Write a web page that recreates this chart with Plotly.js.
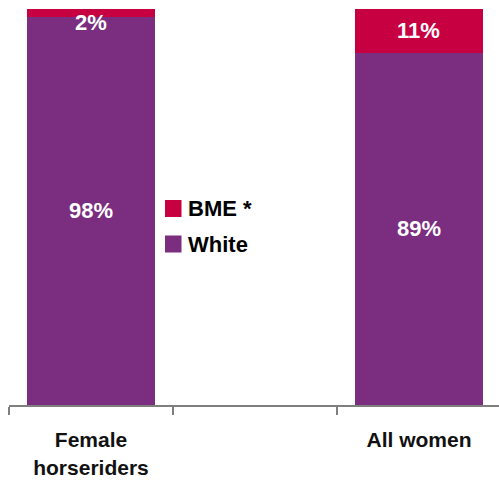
<!DOCTYPE html>
<html>
<head>
<meta charset="utf-8">
<script src="https://cdn.plot.ly/plotly-3.0.1.min.js"></script>
<style>
  html, body { margin: 0; padding: 0; background: #fff; }
  #chart { width: 499px; height: 483px; }
</style>
</head>
<body>
<div id="chart"></div>
<script>
// ---- data ----
const categories = ['Female<br>horseriders', 'All women'];
const axisCategories = ['Female<br>horseriders', ' ', 'All women'];
const seriesNames = ['White', 'BME *'];
const whiteValues = [98, 89];
const bmeValues = [2, 11];
const colors = { white: '#7B2D7F', bme: '#C70042' };

// ---- layout helpers ----
const W = 499, H = 483;
const M = { l: 9, r: 0, t: 9, b: 78 };
const plotW = W - M.l - M.r, plotH = H - M.t - M.b;
const px = x => (x - M.l) / plotW;
const py = y => (H - M.b - y) / plotH;
const FONT = 'Liberation Sans, Arial, Helvetica, sans-serif';

const traces = [
  {
    type: 'bar', name: seriesNames[0], x: categories, y: whiteValues,
    marker: { color: colors.white }, width: 0.775,
    hoverinfo: 'none', textposition: 'none', showlegend: false
  },
  {
    type: 'bar', name: seriesNames[1], x: categories, y: bmeValues,
    marker: { color: colors.bme }, width: 0.775,
    hoverinfo: 'none', textposition: 'none', showlegend: false
  }
];

const labelFont = { family: FONT, size: 22, color: '#ffffff', weight: 700 };
const annotations = [];
categories.forEach((c, i) => {
  annotations.push({
    x: c, y: whiteValues[i] / 2, xref: 'x', yref: 'y',
    text: whiteValues[i] + '%', showarrow: false,
    font: labelFont, yanchor: 'middle'
  });
  const total = whiteValues[i] + bmeValues[i];
  if (bmeValues[i] >= 5) {
    annotations.push({
      x: c, y: whiteValues[i] + bmeValues[i] / 2, xref: 'x', yref: 'y',
      text: bmeValues[i] + '%', showarrow: false,
      font: labelFont, yanchor: 'middle'
    });
  } else {
    annotations.push({
      x: c, y: total, xref: 'x', yref: 'y',
      text: bmeValues[i] + '%', showarrow: false,
      font: labelFont, yanchor: 'top', yshift: 1
    });
  }
});

// custom legend
const legendItems = [
  { name: seriesNames[1], color: colors.bme, cy: 208.5 },
  { name: seriesNames[0], color: colors.white, cy: 244 }
];
const shapes = [];
legendItems.forEach(it => {
  shapes.push({
    type: 'rect', xref: 'paper', yref: 'paper',
    x0: px(165), x1: px(181.5), y0: py(it.cy - 8.5), y1: py(it.cy + 8.5),
    fillcolor: it.color, line: { width: 0 }
  });
  annotations.push({
    xref: 'paper', yref: 'paper', x: px(186), y: py(it.cy),
    xanchor: 'left', yanchor: 'middle', text: it.name, showarrow: false,
    font: { family: FONT, size: 22, color: '#000000', weight: 700 }
  });
});

const layout = {
  width: W, height: H,
  margin: M,
  paper_bgcolor: '#ffffff', plot_bgcolor: '#ffffff',
  barmode: 'stack',
  showlegend: false,
  xaxis: {
    type: 'category',
    categoryorder: 'array', categoryarray: axisCategories,
    range: [-0.5, 2.488],
    tickson: 'boundaries',
    ticks: 'outside', ticklen: 8, tickwidth: 1.5, tickcolor: '#7f7f7f',
    showline: true, linecolor: '#7f7f7f', linewidth: 2,
    showgrid: false, zeroline: false,
    ticklabelstandoff: 15,
    tickfont: { family: FONT, size: 21, color: '#111111', weight: 700 },
    fixedrange: true
  },
  yaxis: { visible: false, range: [0, 100], fixedrange: true },
  annotations: annotations,
  shapes: shapes
};

Plotly.newPlot('chart', traces, layout, { displayModeBar: false, staticPlot: true });
</script>
</body>
</html>
